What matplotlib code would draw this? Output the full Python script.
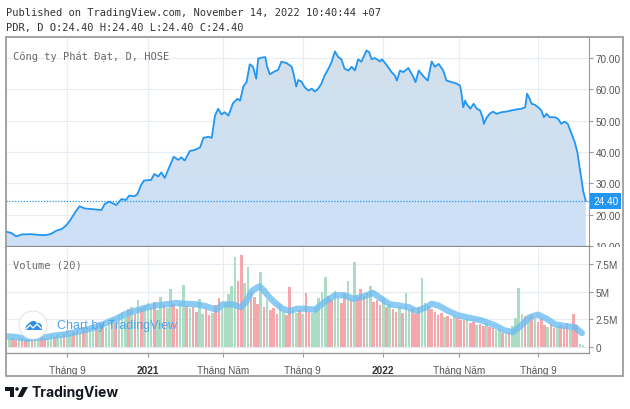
import numpy as np
import pandas as pd
import matplotlib
matplotlib.use('Agg')
import matplotlib.pyplot as plt
import matplotlib.dates as mdates
from matplotlib.patches import Rectangle, Ellipse, Polygon
from matplotlib.lines import Line2D
from matplotlib.colors import LinearSegmentedColormap
from matplotlib.transforms import Bbox, TransformedBbox, blended_transform_factory

# ---------------- data ----------------
price_dates = [
    "2020-05-29", "2020-06-06", "2020-06-14", "2020-06-22", "2020-07-07", "2020-07-23", "2020-07-30",
    "2020-08-07", "2020-08-15", "2020-08-23", "2020-08-30", "2020-09-05", "2020-09-10", "2020-09-15",
    "2020-09-20", "2020-09-28", "2020-10-08", "2020-10-24", "2020-10-29", "2020-11-05", "2020-11-10",
    "2020-11-16", "2020-11-24", "2020-12-01", "2020-12-06", "2020-12-14", "2020-12-19", "2020-12-24",
    "2020-12-29", "2021-01-09", "2021-01-14", "2021-01-20", "2021-01-25", "2021-01-30", "2021-02-05",
    "2021-02-13", "2021-02-20", "2021-02-25", "2021-03-02", "2021-03-10", "2021-03-18", "2021-03-26",
    "2021-03-31", "2021-04-08", "2021-04-13", "2021-04-18", "2021-04-23", "2021-04-28", "2021-05-03",
    "2021-05-09", "2021-05-16", "2021-05-23", "2021-05-27", "2021-06-01", "2021-06-06", "2021-06-11",
    "2021-06-16", "2021-06-21", "2021-06-24", "2021-06-29", "2021-07-05", "2021-07-08", "2021-07-12",
    "2021-07-20", "2021-07-25", "2021-07-30", "2021-08-07", "2021-08-15", "2021-08-18", "2021-08-22",
    "2021-08-25", "2021-08-30", "2021-09-04", "2021-09-10", "2021-09-15", "2021-09-20", "2021-09-25",
    "2021-09-30", "2021-10-05", "2021-10-11", "2021-10-16", "2021-10-21", "2021-10-26", "2021-10-31",
    "2021-11-05", "2021-11-11", "2021-11-16", "2021-11-21", "2021-11-26", "2021-12-01", "2021-12-09",
    "2021-12-13", "2021-12-17", "2021-12-22", "2021-12-30", "2022-01-02", "2022-01-09", "2022-01-17",
    "2022-01-22", "2022-01-25", "2022-01-30", "2022-02-04", "2022-02-12", "2022-02-19", "2022-02-23",
    "2022-02-28", "2022-03-07", "2022-03-14", "2022-03-20", "2022-03-25", "2022-03-31", "2022-04-07",
    "2022-04-12", "2022-04-20", "2022-04-28", "2022-05-03", "2022-05-05", "2022-05-08", "2022-05-11",
    "2022-05-13", "2022-05-19", "2022-05-24", "2022-05-29", "2022-06-03", "2022-06-07", "2022-06-09",
    "2022-06-13", "2022-06-18", "2022-06-23", "2022-06-29", "2022-07-06", "2022-07-14", "2022-07-22",
    "2022-07-30", "2022-08-06", "2022-08-12", "2022-08-15", "2022-08-19", "2022-08-22", "2022-08-27",
    "2022-09-01", "2022-09-06", "2022-09-10", "2022-09-14", "2022-09-19", "2022-09-27", "2022-10-02",
    "2022-10-07", "2022-10-12", "2022-10-17", "2022-10-22", "2022-10-28", "2022-11-01", "2022-11-04",
    "2022-11-08", "2022-11-10", "2022-11-14",
]
price_vals = [
    14.6, 14.2, 13.1, 13.7, 13.8, 13.5, 13.5,
    13.9, 14.9, 15.4, 16.5, 18.1, 19.7, 21.3,
    22.7, 22.0, 21.8, 21.5, 23.4, 24.2, 23.7,
    23.1, 25.0, 24.7, 26.1, 25.9, 26.6, 29.3,
    30.9, 31.1, 33.0, 32.2, 33.5, 31.7, 34.6,
    38.5, 37.5, 38.3, 37.3, 40.3, 40.7, 41.5,
    44.5, 44.9, 44.5, 51.6, 53.8, 52.0, 52.7,
    51.6, 55.6, 57.0, 56.4, 60.9, 62.3, 68.0,
    67.2, 63.4, 69.8, 70.1, 70.3, 67.2, 64.8,
    65.8, 66.2, 68.8, 68.4, 67.2, 64.9, 60.9,
    63.0, 62.5, 60.7, 59.6, 60.2, 59.3, 60.2,
    61.8, 64.4, 66.6, 68.8, 72.1, 70.3, 69.6,
    66.6, 66.0, 67.2, 66.0, 69.6, 68.8, 72.4,
    71.9, 69.6, 70.0, 68.9, 69.6, 67.8, 65.5,
    64.4, 62.8, 66.0, 65.5, 66.8, 64.2, 62.3,
    66.0, 64.2, 62.8, 68.9, 67.2, 68.1, 66.0,
    62.8, 62.3, 61.8, 61.2, 59.1, 54.3, 56.4,
    55.4, 53.8, 55.4, 53.8, 53.3, 51.1, 49.0,
    50.9, 52.2, 52.9, 52.2, 52.7, 52.9, 53.3,
    53.6, 53.8, 54.3, 58.6, 57.0, 55.4, 55.1,
    54.3, 53.3, 51.1, 52.2, 51.1, 51.1, 50.6,
    49.0, 49.7, 49.0, 46.3, 43.1, 39.9, 35.7,
    30.4, 27.5, 24.4,
]
last_close = 24.40

# volume (millions), one bar every 5 days starting at vol_start
vol_start = "2020-05-29"
vol_step_days = 5
vol_vals = [
    0.9, 0.7, 0.8, 0.6, 0.7, 0.8, 0.6, 0.7, 0.9, 0.8, 0.7, 1.0, 0.8, 0.9, 1.1, 0.9,
    1.2, 1.0, 1.3, 1.5, 1.1, 1.4, 1.6, 1.3, 1.8, 1.5, 1.7, 2.0, 1.6, 1.9, 2.2, 1.8,
    2.3, 2.6, 2.2, 2.9, 3.2, 2.7, 3.4, 3.6, 3.0, 4.2, 3.5, 3.8, 4.0,
    3.6, 4.1, 3.3, 4.5, 3.8, 3.5, 5.2, 3.9, 3.4, 4.0, 5.6, 3.7, 3.5,
    3.6, 3.2, 4.3, 3.0, 3.4, 2.9, 3.1, 3.8, 4.4, 3.5, 4.0,
    4.8, 5.5, 8.1, 6.0, 8.3, 5.8, 7.2, 5.0,
    4.5, 3.9, 6.8, 3.6, 4.2, 3.3,
    3.5, 3.0, 3.8, 3.2, 2.9, 5.4, 3.4, 3.1, 3.3,
    3.0, 4.9, 3.2, 3.1, 3.6,
    4.4, 5.0, 6.3, 4.6, 4.2, 5.1, 4.4,
    4.0, 4.8, 6.0, 4.3, 7.7, 4.5,
    5.2, 4.6, 4.9, 5.5, 4.1,
    4.2, 3.8, 4.4, 3.6, 3.9, 3.4,
    3.2, 3.6, 3.1, 4.9, 3.3, 3.5, 3.0,
    3.6, 6.2, 4.0, 3.7, 3.4, 3.2,
    2.9, 3.1, 2.7, 2.8, 2.5, 2.9, 2.6, 2.4,
    2.4, 2.6, 2.2, 2.3, 2.0, 2.1, 1.9, 2.2, 1.8, 1.7, 1.5, 1.6, 1.3, 1.2, 1.4,
    1.9, 2.6, 5.3, 3.0, 2.8, 2.7,
    2.9, 2.5, 2.3, 2.6,
    2.0, 1.8, 2.1, 1.7, 1.9, 2.0,
    1.8, 2.2, 1.6, 3.0, 2.0,
    0.3, 0.2,
]
# u = up day (green), d = down day (red)
vol_dirs = ("duddudduduudduud" "uuduuduuduuududu" "uuduuudududuu" "uduuduudduudu"
            "dduuddudduu" "uuudduud" "ddudud" "dduudduud" "udduu" "uuudduu"
            "ddudud" "dduud" "ddudud" "duduudd" "duuddd" "dduddudd"
            "dudduddudduudud" "uuuudu" "dudd" "duddud" "ddudd" "uu")

ma_dates = [
    "2020-05-29", "2020-06-14", "2020-06-29", "2020-07-15", "2020-07-30", "2020-08-15", "2020-08-30",
    "2020-09-15", "2020-09-30", "2020-10-16", "2020-10-31", "2020-11-16", "2020-12-01", "2020-12-17",
    "2021-01-01", "2021-01-17", "2021-02-01", "2021-02-17", "2021-03-04", "2021-03-20", "2021-04-04",
    "2021-04-20", "2021-04-30", "2021-05-15", "2021-05-28", "2021-06-05", "2021-06-15", "2021-06-26",
    "2021-07-03", "2021-07-11", "2021-07-22", "2021-08-01", "2021-08-11", "2021-08-24", "2021-09-04",
    "2021-09-20", "2021-10-05", "2021-10-21", "2021-11-05", "2021-11-18", "2021-12-01", "2021-12-19",
    "2022-01-01", "2022-01-14", "2022-01-27", "2022-02-12", "2022-02-25", "2022-03-12", "2022-03-20",
    "2022-03-30", "2022-04-15", "2022-04-30", "2022-05-16", "2022-06-05", "2022-06-26", "2022-07-11",
    "2022-07-24", "2022-08-06", "2022-08-19", "2022-09-01", "2022-09-14", "2022-09-27", "2022-10-12",
    "2022-10-28", "2022-11-08",
]
ma_vals = [
    0.97, 0.90, 0.75, 0.84, 0.90, 1.05, 1.15,
    1.35, 1.56, 1.80, 2.17, 2.56, 3.00, 3.30,
    3.55, 3.76, 3.85, 3.97, 3.90, 3.85, 3.68,
    3.37, 3.85, 3.85, 3.60, 4.06, 5.10, 5.48,
    5.10, 4.50, 3.90, 3.46, 3.25, 3.46, 3.46,
    3.37, 4.06, 4.67, 4.67, 4.36, 4.50, 4.88,
    4.36, 3.85, 3.76, 3.60, 3.25, 3.60, 3.90,
    3.76, 3.25, 2.86, 2.65, 2.41, 1.96, 1.50,
    1.35, 1.96, 2.70, 2.92, 2.56, 2.05, 1.90,
    1.80, 1.26,
]

price_ticks = [10, 20, 30, 40, 50, 60, 70]
vol_ticks = [0, 2.5, 5, 7.5]
vol_tick_labels = ["0", "2.5M", "5M", "7.5M"]
x_tick_dates = ["2020-09-01", "2021-01-04", "2021-05-01", "2021-09-01", "2022-01-04", "2022-05-01", "2022-09-01"]
x_tick_labels = ["Tháng 9", "2021", "Tháng Năm", "Tháng 9", "2022", "Tháng Năm", "Tháng 9"]

# ---------------- figure ----------------
W, H = 630, 410
fig = plt.figure(figsize=(6.3, 4.1), dpi=100)
fig.patch.set_facecolor('white')


def fx(px):
    return px / W


def fy(py):
    return 1 - py / H


ax = fig.add_axes([fx(6), fy(248), fx(589) - fx(6), fy(38) - fy(248)])
axv = fig.add_axes([fx(6), fy(354), fx(589) - fx(6), fy(248) - fy(354)], sharex=ax)

PY0, PY1 = 9.7, 76.7
VY0, VY1 = -0.54, 9.03
X0, X1 = pd.Timestamp("2020-05-29"), pd.Timestamp("2022-11-19")

pd_dates = pd.to_datetime(price_dates)
xd = mdates.date2num(pd_dates)

line_col = '#2196f3'
ax.plot(pd_dates, price_vals, color=line_col, lw=1.3, zorder=4)
poly = ax.fill_between(xd, price_vals, PY0, facecolor='none', edgecolor='none')
grad = np.linspace(0, 1, 256).reshape(-1, 1)
cmap = LinearSegmentedColormap.from_list('g', ['#cde0f8', '#d2e0ea'])
img = ax.imshow(grad, extent=[xd[0], xd[-1], PY0, 74], origin='lower', aspect='auto',
                cmap=cmap, zorder=2, interpolation='bilinear')
img.set_clip_path(poly.get_paths()[0], transform=ax.transData)

ax.axhline(last_close, color=line_col, lw=0.9, ls=(0, (1, 1.3)), zorder=5)

ax.set_xlim(X0, X1)
ax.set_ylim(PY0, PY1)
ax.set_aspect('auto')

grid_col = '#e6ecf3'
for a in (ax, axv):
    a.set_axisbelow(True)
    a.grid(True, color=grid_col, lw=0.8)
    a.spines['top'].set_visible(False)
    a.spines['left'].set_visible(False)
    a.spines['right'].set_color('#999999')
    a.yaxis.tick_right()
    a.tick_params(axis='y', direction='out', length=3, color='#999999', labelsize=7.2,
                  labelcolor='#555555', pad=1.5)
    for lab in a.get_yticklabels():
        lab.set_family('Liberation Sans')

ax.spines['bottom'].set_color('#8a8a8a')
ax.spines['bottom'].set_linewidth(1.6)
ax.tick_params(axis='x', bottom=False, labelbottom=False)

ax.set_yticks(price_ticks)
ax.set_yticklabels([f"{v:.2f}" for v in price_ticks], family='Liberation Sans')
clipbox = TransformedBbox(Bbox([[1.0, 0.0], [1.2, 1.0]]), ax.transAxes)
for t in ax.yaxis.get_major_ticks():
    t.label2.set_clip_box(clipbox)
    t.label2.set_clip_on(True)

# last price label
bt = blended_transform_factory(ax.transAxes, ax.transData)
ax.text(1.0 + 4 / 583, last_close, f"{last_close:.2f}", transform=bt, ha='left', va='center',
        color='white', fontsize=7.2, family='Liberation Sans', zorder=10, clip_on=False,
        bbox=dict(boxstyle='square,pad=0.3', fc=line_col, ec='none'))

# volume
vol_dates = pd.date_range(vol_start, periods=len(vol_vals), freq=f"{vol_step_days}D")
dirs = vol_dirs.ljust(len(vol_vals), 'u')[:len(vol_vals)]
green, red = '#acdcc4', '#f5a8ac'
cols = [green if c == 'u' else red for c in dirs]
axv.bar(vol_dates, vol_vals, width=vol_step_days * 0.8, color=cols, linewidth=0, zorder=2)
axv.plot(pd.to_datetime(ma_dates), ma_vals, color='#6dbdf0', lw=4.5, alpha=0.8,
         solid_capstyle='round', solid_joinstyle='round', zorder=3)
axv.set_ylim(VY0, VY1)
axv.set_yticks(vol_ticks)
axv.set_yticklabels(vol_tick_labels, family='Liberation Sans')
axv.spines['bottom'].set_color('#999999')
axv.spines['bottom'].set_linewidth(1.0)

axv.set_xticks(pd.to_datetime(x_tick_dates))
axv.set_xticklabels(x_tick_labels)
axv.tick_params(axis='x', direction='out', length=3, color='#999999', labelsize=7.2,
                labelcolor='#555555', pad=6)
for lab in axv.get_xticklabels():
    lab.set_family('Liberation Sans')
    if lab.get_text().isdigit():
        lab.set_fontweight('bold')
        lab.set_color('#333333')
axv.set_xlim(X0, X1)

# ---------------- texts & decorations ----------------
mono = 'DejaVu Sans Mono'
fig.text(fx(6), fy(13), "Published on TradingView.com, November 14, 2022 10:40:44 +07",
         family=mono, fontsize=7.5, color='#333333', va='center', ha='left')
fig.text(fx(6), fy(28), "PDR, D O:24.40 H:24.40 L:24.40 C:24.40",
         family=mono, fontsize=7.5, color='#333333', va='center', ha='left')
fig.text(fx(13), fy(57), "Công ty Phát Đạt, D, HOSE", family=mono, fontsize=7.5,
         color='#6a6a6a', va='center', ha='left')
fig.text(fx(13), fy(266), "Volume (20)", family=mono, fontsize=7.5,
         color='#6a6a6a', va='center', ha='left')

# watermark
fig.add_artist(Ellipse((fx(33), fy(326)), 28 / W, 28 / H, transform=fig.transFigure,
                       fc='white', ec='#e1e6ec', lw=0.8, zorder=20))
cloud = [(25, 331), (26, 327), (29, 324), (32, 322), (35, 322), (37, 324), (40, 324),
         (42, 327), (42, 331)]
fig.add_artist(Polygon([(fx(x), fy(y)) for x, y in cloud], closed=True,
                       transform=fig.transFigure, fc='#2f8fe8', ec='none', zorder=21))
zig = [(26, 330), (30, 326), (33, 329), (37, 325), (41, 329)]
fig.add_artist(Line2D([fx(x) for x, y in zig], [fy(y) for x, y in zig], transform=fig.transFigure,
                      color='white', lw=1.0, zorder=22))
fig.text(fx(57), fy(326), "Chart by TradingView", family='Liberation Sans', fontsize=9,
         color='#4ea4ee', va='center', ha='left', zorder=23)

# outer frame
fig.add_artist(Rectangle((fx(6), fy(377)), fx(623) - fx(6), fy(38) - fy(377),
                         transform=fig.transFigure, fill=False, ec='#9c9c9c', lw=1.3, zorder=30))

# bottom logo
logo_c = '#131722'
t_shape = [(5, 388), (14, 388), (14, 398), (9.5, 398), (9.5, 391.5), (5, 391.5)]
fig.add_artist(Polygon([(fx(x), fy(y)) for x, y in t_shape], closed=True,
                       transform=fig.transFigure, fc=logo_c, ec='none'))
fig.add_artist(Ellipse((fx(17), fy(390)), 3.6 / W, 3.6 / H, transform=fig.transFigure,
                       fc=logo_c, ec='none'))
v_shape = [(22.5, 388), (28, 388), (22.5, 398), (17.5, 398)]
fig.add_artist(Polygon([(fx(x), fy(y)) for x, y in v_shape], closed=True,
                       transform=fig.transFigure, fc=logo_c, ec='none'))
fig.text(fx(31), fy(393), "TradingView", family='Inter', fontweight='bold', fontsize=10,
         color=logo_c, va='center', ha='left')

fig.savefig('out.png', dpi=100, facecolor='white')
